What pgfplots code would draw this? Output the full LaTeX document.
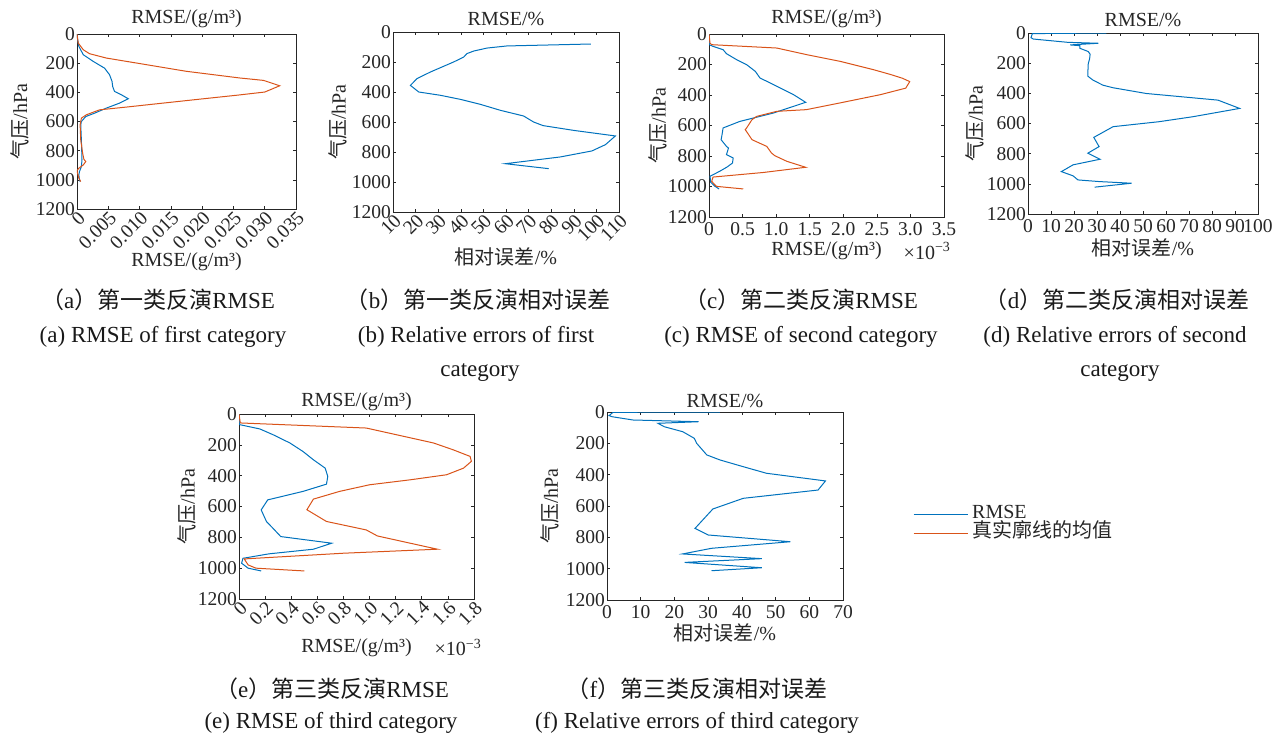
\documentclass[border=0pt]{standalone}
\usepackage{fontspec}
\setmainfont{Liberation Serif}
\newfontfamily\cjk{Noto Sans CJK SC}
\usepackage{pgfplots}
\pgfplotsset{compat=1.18}
\definecolor{mblue}{RGB}{0,114,189}
\definecolor{mred}{RGB}{217,83,25}
\definecolor{axgray}{RGB}{38,38,38}
\newcommand\lf{\fontsize{20}{22}\selectfont}
\newcommand\tf{\fontsize{19.5}{22}\selectfont}
\newcommand\capf{\fontsize{23}{26}\selectfont}
\pgfplotsset{every axis title shift=0pt, panel/.style={
  scale only axis, anchor=north west,
  y dir=reverse, ymin=0, ymax=1200,
  ytick={0,200,...,1200}, yticklabels={0,200,400,600,800,1000,1200},
  axis line style={axgray, line width=0.7pt},
  tick align=inside, tick pos=both, major tick length=3pt,
  tick style={axgray, line width=0.6pt},
  ticklabel style={font=\tf, text=axgray, inner sep=2pt},
  label style={font=\lf, text=axgray},
  title style={font=\lf, text=axgray},
  scaled ticks=false,
  every axis plot/.append style={line width=1pt},
},
flatx/.style={xticklabel style={yshift=-3pt}},
rotx/.style={xticklabel style={rotate=45, anchor=north east, inner sep=0.5pt}},
geom/.style n args={6}{at={(#1pt,-#2pt)}, width=#3pt, height=#4pt,
  xlabel style={at={(axis description cs:0.5,#5)}, anchor=center},
  ylabel style={at={(axis description cs:#6,0.5)}, anchor=center}},
ttl/.style={title style={at={(axis description cs:0.5,#1)}, anchor=center}},
expo/.style 2 args={after end axis/.code={\node[font=\lf, text=axgray] at (axis description cs:#1,#2) {×10\textsuperscript{−3}};}},
}
\begin{document}
\begin{tikzpicture}
\useasboundingbox (0pt,0pt) rectangle (1288pt,-736pt);
% ---------- (a)
\begin{axis}[panel, rotx, geom={77}{34}{219}{175}{-0.30}{-0.262}, ttl={1.086},
  xmin=0, xmax=0.035, xtick={0,0.005,...,0.035},
  xticklabels={0,0.005,0.010,0.015,0.020,0.025,0.030,0.035},
  title={RMSE/(g/m³)}, xlabel={RMSE/(g/m³)}, ylabel={{\cjk 气压}/hPa}]
\addplot[mblue] table {
x p
0.0000 0
0.0001 40
0.0003 85
0.0010 142
0.0026 188
0.0044 234
0.0052 279
0.0056 325
0.0057 360
0.0060 394
0.0071 417
0.0082 444
0.0068 474
0.0047 508
0.0028 543
0.0014 566
0.0007 600
0.0006 623
0.0007 726
0.0008 863
0.0007 909
0.0004 943
0.0003 966
0.0004 1000
0.0005 1012
};
\addplot[mred] table {
x p
0.0000 0
0.0002 62
0.0010 108
0.0020 135
0.0047 165
0.0095 199
0.0175 256
0.0261 302
0.0298 318
0.0324 355
0.0300 398
0.0255 420
0.0200 445
0.0135 475
0.0079 501
0.0036 520
0.0015 554
0.0007 577
0.0005 623
0.0006 726
0.0009 817
0.0011 859
0.0014 875
0.0010 898
0.0003 920
0.0000 937
0.0001 955
0.0003 989
0.0006 1012
};
\end{axis}
% ---------- (b)
\begin{axis}[panel, rotx, geom={393}{32}{226}{180}{-0.25}{-0.243}, ttl={1.072},
  xmin=10, xmax=110, xtick={10,20,...,110},
  xticklabels={10,20,30,40,50,60,70,80,90,100,110},
  title={RMSE/\%}, xlabel={{\cjk 相对误差}/\%}, ylabel={{\cjk 气压}/hPa}]
\addplot[mblue] table {
x p
97.6 80
60.4 93
51.6 107
45.7 127
42.7 144
41.3 167
36.8 200
26.5 267
20.6 311
17.7 356
21.4 400
31.0 422
39.8 449
48.6 482
57.5 522
67.8 560
72.2 600
76.4 624
90.0 656
108.4 693
104.0 751
98.0 793
84.0 833
59.7 878
78.9 911
};
\end{axis}
% ---------- (c)
\begin{axis}[panel, flatx, geom={709}{34}{235}{183}{-0.186}{-0.217}, ttl={1.082},
  expo={0.928}{-0.186},
  xmin=0, xmax=3.5, xtick={0,0.5,...,3.5},
  xticklabels={0,0.5,1.0,1.5,2.0,2.5,3.0,3.5},
  title={RMSE/(g/m³)}, xlabel={RMSE/(g/m³)}, ylabel={{\cjk 气压}/hPa}]
\addplot[mblue] table {
x p
0 0
0.005 70
0.06 81
0.21 103
0.26 129
0.41 168
0.56 201
0.69 245
0.76 289
0.86 310
1.06 354
1.26 398
1.44 448
0.96 518
0.66 551
0.46 573
0.21 616
0.19 671
0.18 693
0.26 737
0.29 748
0.26 791
0.36 813
0.35 846
0.27 872
0.16 900
0.015 933
0.025 972
0.09 999
0.15 1016
};
\addplot[mred] table {
x p
0 0
0.015 59
0.04 70
1.01 92
1.45 135
1.95 179
2.45 234
2.70 265
2.88 290
2.99 312
2.93 355
2.55 398
1.95 452
1.45 496
1.01 507
0.71 540
0.64 562
0.56 616
0.54 627
0.59 660
0.64 693
0.86 737
0.93 780
0.98 798
1.16 835
1.44 874
0.81 908
0.06 938
0.04 966
0.11 999
0.51 1016
};
\end{axis}
% ---------- (d)
\begin{axis}[panel, flatx, geom={1028}{33}{230}{181}{-0.188}{-0.23}, ttl={1.072},
  xmin=0, xmax=100, xtick={0,10,...,100},
  xticklabels={0,10,20,30,40,50,60,70,80,90,100},
  title={RMSE/\%}, xlabel={{\cjk 相对误差}/\%}, ylabel={{\cjk 气压}/hPa}]
\addplot[mblue] table {
x p
34.1 0
1.9 4
1.3 31
2.3 40
17.4 62
30.6 68
18.3 79
22.5 84
22.5 101
26.2 123
27.0 141
26.8 170
26.2 203
26.0 269
26.0 286
28.3 313
32.6 346
37.0 363
51.4 401
82.6 445
92.0 500
71.7 555
57.0 588
37.0 621
28.6 692
30.9 753
26.0 797
31.3 837
19.6 874
14.5 919
19.6 947
21.7 974
31.0 985
45.0 996
29.0 1022
};
\end{axis}
% ---------- (e)
\begin{axis}[panel, rotx, geom={239}{414}{235}{185}{-0.262}{-0.221}, ttl={1.065},
  expo={0.932}{-0.262},
  xmin=0, xmax=1.8, xtick={0,0.2,...,1.8},
  xticklabels={0,0.2,0.4,0.6,0.8,1.0,1.2,1.4,1.6,1.8},
  title={RMSE/(g/m³)}, xlabel={RMSE/(g/m³)}, ylabel={{\cjk 气压}/hPa},
  legend image code/.code={\draw[#1] (0pt,0pt) -- (54pt,0pt);},
  legend cell align=left,
  legend style={at={(axis description cs:2.868,0.405)}, anchor=west,
    draw=none, fill=none, inner sep=0pt, font=\lf, text=axgray,
    nodes={inner sep=1pt, text height=12pt, text depth=5pt},
    /tikz/every odd column/.append style={column sep=3pt}}]
\addplot[mblue] table {
x p
0 0
0.005 69
0.16 97
0.26 134
0.39 188
0.49 243
0.57 297
0.66 351
0.68 405
0.67 455
0.49 502
0.22 557
0.17 622
0.21 697
0.26 741
0.32 795
0.71 838
0.57 877
0.23 907
0.03 936
0.02 968
0.07 1000
0.17 1018
};
\addlegendentry{RMSE}
\addplot[mred] table {
x p
0 0
0.01 58
0.975 91
1.49 188
1.64 232
1.77 275
1.78 307
1.72 351
1.59 394
1.31 427
1.00 459
0.77 502
0.57 552
0.52 621
0.67 697
0.975 752
1.06 791
1.52 877
0.80 903
0.04 940
0.07 979
0.13 1000
0.50 1018
};
\addlegendentry{{\cjk 真实廓线的均值}}
\end{axis}
% ---------- (f)
\begin{axis}[panel, flatx, geom={607}{412}{236}{188}{-0.176}{-0.24}, ttl={1.059},
  xmin=0, xmax=70, xtick={0,10,...,70},
  xticklabels={0,10,20,30,40,50,60,70},
  title={RMSE/\%}, xlabel={{\cjk 相对误差}/\%}, ylabel={{\cjk 气压}/hPa}]
\addplot[mblue] table {
x p
33.5 0
1.8 2
0.6 23
1.5 30
7.7 51
27.2 62
15.1 72
17.0 94
22.5 126
25.9 168
26.6 200
29.6 274
33.5 306
40.4 349
47.3 391
64.8 440
62.6 498
40.4 551
31.4 619
26.1 743
30.0 785
54.4 828
31.0 870
22.4 906
45.9 936
23.0 960
45.9 994
31.0 1013
};
\end{axis}
% ---------- captions
\begin{scope}[every node/.style={font=\capf, text=black!90, inner sep=0pt}]
\node at (158pt,-300pt) {{\cjk （}a{\cjk ）第一类反演}RMSE};
\node at (163pt,-337pt) {(a) RMSE of first category};
\node at (478pt,-300pt) {{\cjk （}b{\cjk ）第一类反演相对误差}};
\node at (476pt,-337pt) {(b) Relative errors of first};
\node at (480pt,-373pt) {category};
\node at (801pt,-300pt) {{\cjk （}c{\cjk ）第二类反演}RMSE};
\node at (801pt,-337pt) {(c) RMSE of second category};
\node at (1117pt,-300pt) {{\cjk （}d{\cjk ）第二类反演相对误差}};
\node at (1115pt,-337pt) {(d) Relative errors of second};
\node at (1120pt,-373pt) {category};
\node at (332pt,-689pt) {{\cjk （}e{\cjk ）第三类反演}RMSE};
\node at (331pt,-723pt) {(e) RMSE of third category};
\node at (697pt,-689pt) {{\cjk （}f{\cjk ）第三类反演相对误差}};
\node at (697pt,-723pt) {(f) Relative errors of third category};
\end{scope}
\end{tikzpicture}
\end{document}
